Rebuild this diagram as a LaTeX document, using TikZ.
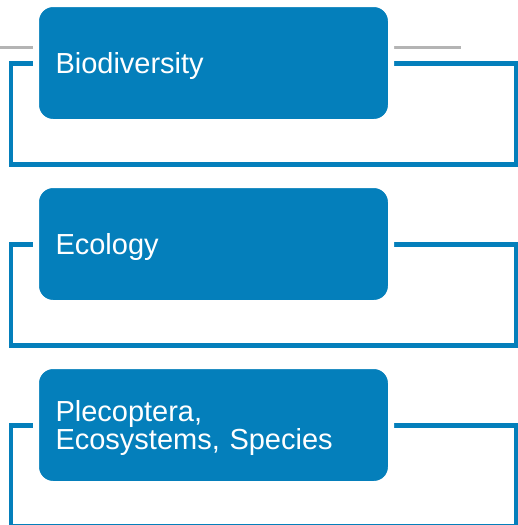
\documentclass[tikz,border=0pt]{standalone}
\usepackage{fontspec}
\setmainfont{Liberation Sans}
\usetikzlibrary{positioning, backgrounds}
\definecolor{topicblue}{HTML}{047FBB}
\definecolor{rulegray}{HTML}{B4B4B4}
\frenchspacing

\begin{document}
\begin{tikzpicture}[x=1pt, y=1pt, on grid,
  topic/.style={rectangle, rounded corners=17pt, fill=topicblue, draw=white,
    line width=6pt, text=white, text width=316pt, inner xsep=19.5pt, inner ysep=0pt,
    minimum height=118pt, align=left, font=\fontsize{29}{28}\selectfont,
    execute at begin node={\rule{0pt}{27pt}}},
  holder/.style={rectangle, draw=topicblue, line width=4.5pt,
    minimum width=505pt, minimum height=101pt}]
  \clip (0,0) rectangle (518,-525);

  \coordinate (r1) at (0,-47.5);
  \coordinate (r2) at (461,-47.5);
  \draw[rulegray, line width=3pt] (r1) -- (r2);

  \node[topic] (bio) at (213.5,-63) {Biodiversity};
  \node[topic, below=181pt of bio] (eco) {Ecology};
  \node[topic, below=181pt of eco] (ple) {Plecoptera,\\Ecosystems, Species};

  \begin{scope}[on background layer]
    \node[holder, below right=51pt and 50pt of bio] (bioholder) {};
    \node[holder, below right=51pt and 50pt of eco] (ecoholder) {};
    \node[holder, below right=51pt and 50pt of ple] (pleholder) {};
  \end{scope}
\end{tikzpicture}
\end{document}
